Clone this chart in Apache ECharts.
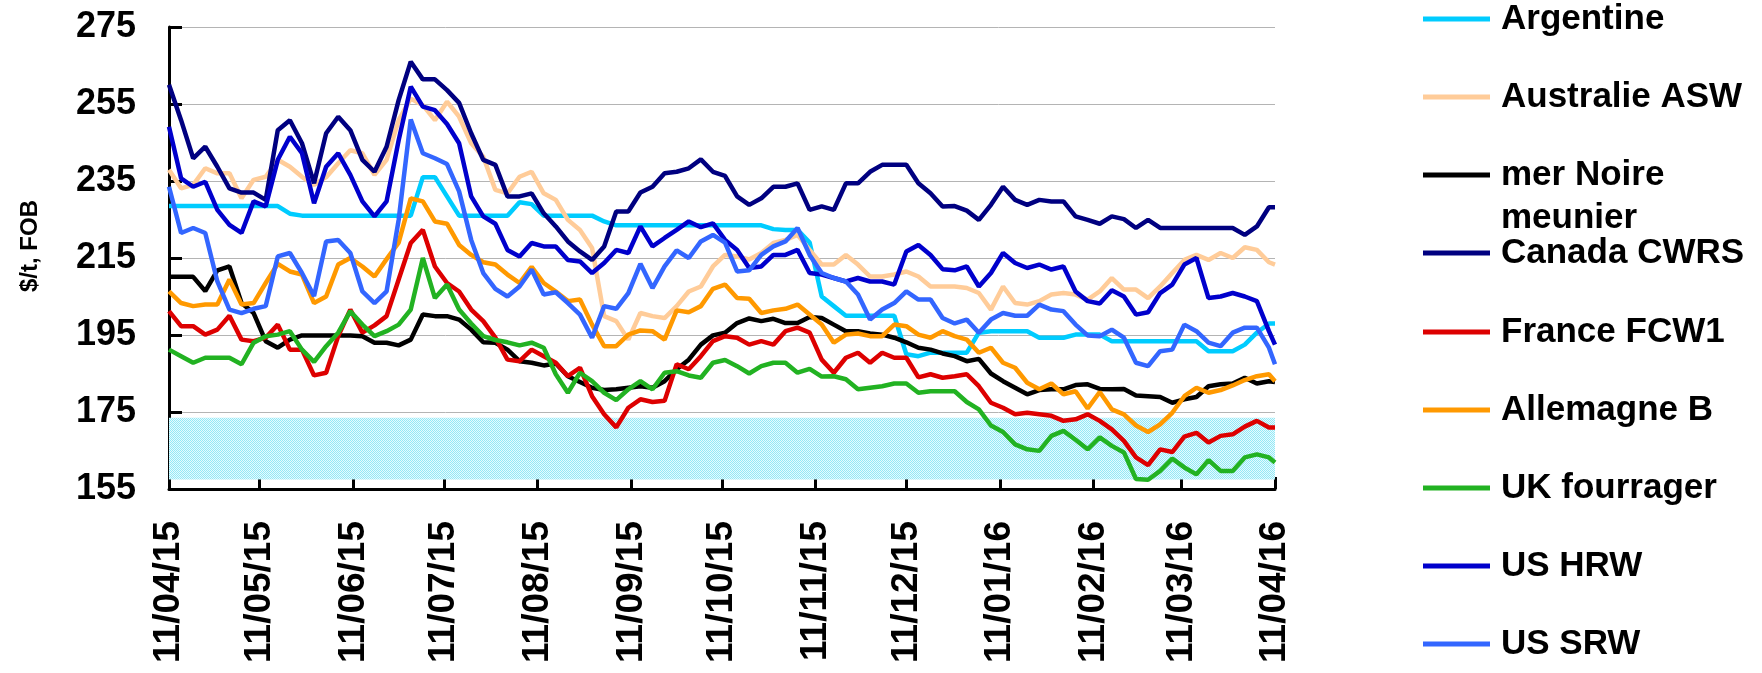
<!DOCTYPE html>
<html>
<head>
<meta charset="utf-8">
<title>Prix FOB du blé</title>
<script src="https://cdn.jsdelivr.net/npm/echarts@6/dist/echarts.min.js"></script>
<style>
  html, body { margin: 0; padding: 0; background: #fff; }
  #chart { width: 1762px; height: 673px; }
</style>
</head>
<body>
<div id="chart"></div>
<script>
// jours écoulés depuis le 11/04/15
const days = [0, 4, 8, 12, 16, 20, 24, 28, 32, 36, 40, 44, 48, 52, 56, 60,
  64, 68, 72, 76, 80, 84, 88, 92, 96, 100, 104, 108, 112, 116, 120, 124,
  128, 132, 136, 140, 144, 148, 152, 156, 160, 164, 168, 172, 176, 180, 184, 188,
  192, 196, 200, 204, 208, 212, 216, 220, 224, 228, 232, 236, 240, 244, 248,
  252, 256, 260, 264, 268, 272, 276, 280, 284, 288, 292, 296, 300, 304, 308, 312,
  316, 320, 324, 328, 332, 336, 340, 344, 348, 352, 356, 360, 364, 366];

// graduations mensuelles
const tickDays = [0, 30, 61, 91, 122, 153, 183, 214, 244, 275, 306, 335, 366];
const tickLabels = ['11/04/15', '11/05/15', '11/06/15', '11/07/15', '11/08/15', '11/09/15',
  '11/10/15', '11/11/15', '11/12/15', '11/01/16', '11/02/16', '11/03/16', '11/04/16'];

const argentine = [228.5, 228.5, 228.5, 228.5, 228.5, 228.5, 228.5, 228.5, 228.5, 228.5, 226.5, 226, 226, 226, 226, 226,
  226, 226, 226, 226, 226, 236, 236, 231, 226, 226, 226, 226, 226, 229.5, 229, 226,
  226, 226, 226, 226, 224.5, 223.5, 223.5, 223.5, 223.5, 223.5, 223.5, 223.5, 223.5, 223.5, 223.5, 223.5,
  223.5, 223.5, 222.5, 222.3, 222.3, 219, 205, 202.5, 200, 200, 200, 200, 200, 190, 189.5,
  190.4, 190.4, 190.4, 190.4, 195.6, 196, 196, 196, 196, 194.3, 194.3, 194.3, 195.1, 195.1, 195.1, 193.4,
  193.4, 193.4, 193.4, 193.4, 193.4, 193.4, 193.4, 190.8, 190.8, 190.8, 192.5, 195.6, 198, 198];

const australieASW = [237.9, 233.1, 234, 238.3, 237, 237, 230.5, 235.3, 236.1, 240.5, 238.7, 236.1, 234, 236, 239.6, 243,
  242.2, 236.6, 240.5, 250.8, 256.4, 254.7, 250.8, 255.6, 251.7, 244.8, 241.3, 232.7, 231.8, 236.1, 237.4, 231.8,
  230.1, 224.9, 222.3, 217.6, 199.9, 198.6, 193.8, 200.7, 199.9, 199.4, 202.5, 206.3, 207.6, 212.8, 215.8, 215.4,
  214.6, 216.3, 218.9, 219.7, 221, 217.1, 213.3, 213.3, 215.8, 213.3, 210.2, 210.2, 210.7, 211.5, 210.2,
  207.6, 207.6, 207.6, 207.2, 205.9, 201.6, 207.6, 203.3, 202.9, 203.8, 205.5, 205.9, 205.5, 204.2, 206.3, 209.8,
  206.8, 206.8, 204.6, 207.6, 211.1, 214.5, 215.8, 214.5, 216.3, 215, 217.8, 217.1, 213.9, 213.3];

const merNoire = [210.1, 210.1, 210.1, 206.4, 211.8, 212.8, 203.3, 200.7, 193.4, 191.7, 193.8, 194.9, 194.9, 194.9, 194.9, 194.9,
  194.7, 193, 193, 192.3, 193.8, 200.3, 199.9, 199.9, 199, 196.4, 193.1, 193, 191.2, 188.2, 187.8, 187.1,
  187.6, 184.3, 182.8, 181.3, 180.7, 180.9, 181.3, 181.7, 181.3, 183, 186.1, 188.6, 192.5, 194.9, 195.6, 198.1,
  199.3, 198.6, 199.2, 198.1, 198.1, 199.7, 199.4, 197.7, 196, 196, 195.4, 195.1, 194.3, 193.1, 191.7,
  191.2, 190.2, 189.5, 188.2, 188.8, 185, 183, 181.3, 179.6, 180.7, 180.9, 180.9, 182, 182.2, 181, 180.9,
  181, 179.3, 179.1, 178.9, 177.4, 178.3, 178.9, 181.7, 182.2, 182.4, 183.9, 182.4, 183, 182.8];

const canadaCWRS = [260, 250.8, 240.9, 243.9, 238.7, 233.1, 232, 232, 230.1, 248.2, 250.8, 244.8, 234.4, 247.4, 251.7, 248.2,
  240.5, 237.4, 243.9, 256, 266, 261.4, 261.4, 258.6, 255.3, 247.4, 240.5, 239.2, 231, 231, 231.8, 226.6,
  223.2, 219.3, 216.7, 214.5, 218, 227.1, 227.1, 232, 233.5, 237, 237.4, 238.3, 240.6, 237.4, 236.3, 231,
  228.8, 230.5, 233.5, 233.5, 234.4, 227.5, 228.4, 227.5, 234.4, 234.4, 237.4, 239.2, 239.2, 239.2, 234.4,
  231.8, 228.4, 228.5, 227.3, 224.9, 228.8, 233.5, 230.1, 228.8, 230.1, 229.7, 229.7, 225.8, 224.9, 223.9, 225.8,
  225.1, 222.8, 224.9, 222.8, 222.8, 222.8, 222.8, 222.8, 222.8, 222.8, 221, 223.2, 228.2, 228.2];

const franceFCW1 = [201.2, 197.3, 197.3, 195.1, 196.4, 200, 193.8, 193.4, 194.3, 197.7, 191.2, 191.2, 184.5, 185.2, 194.7, 201.6,
  195.6, 197.5, 199.9, 209.4, 218.9, 222.3, 212.8, 208.5, 206.3, 201.6, 198.6, 194.3, 188.6, 188.2, 191.2, 189.5,
  187.8, 184.3, 186.5, 179.1, 174.4, 171, 176.1, 178.3, 177.6, 177.9, 187.4, 186.1, 189.5, 193.4, 194.7, 194.3,
  192.5, 193.4, 192.5, 196, 196.9, 195.6, 188.6, 185.2, 189.1, 190.4, 187.8, 190.4, 189.1, 189.1, 184,
  184.8, 183.9, 184.3, 184.8, 181.7, 177.4, 176.1, 174.4, 174.8, 174.4, 174, 172.7, 173.1, 174.4, 172.7, 170.5,
  167.5, 163.2, 161.2, 165.3, 164.6, 168.6, 169.6, 167.1, 168.8, 169.2, 171.2, 172.7, 171, 171];

const allemagneB = [206.3, 203.3, 202.5, 202.9, 202.9, 209.4, 202.9, 203.3, 208.5, 213.5, 211.5, 210.7, 203.3, 205, 213.3, 215,
  212.8, 210.2, 214.7, 219, 230.5, 229.7, 224.5, 223.9, 218.4, 215.8, 213.9, 213.3, 210.7, 208.5, 212.7, 208.5,
  206.3, 203.8, 204.2, 197.7, 192.1, 192.1, 195.1, 196.2, 196, 193.8, 201.4, 200.9, 202.5, 207, 208.1, 204.6,
  204.4, 200.7, 201.4, 201.8, 202.9, 200.3, 197.7, 193, 195.1, 195.4, 194.7, 194.7, 197.7, 197.3, 195.1,
  194.3, 196, 194.7, 193.8, 190.4, 191.7, 187.8, 186.5, 182.6, 180.9, 182.4, 179.6, 180.4, 175.9, 180.2, 175.7,
  174.4, 171.5, 169.8, 171.8, 174.8, 179.1, 181.3, 180, 180.7, 181.9, 183.3, 184.3, 184.8, 183];

const ukFourrager = [191.2, 189.5, 187.8, 189.1, 189.1, 189.1, 187.4, 193, 194.7, 195.1, 196, 191.2, 188, 192.1, 195.6, 201.2,
  197.7, 194.7, 196, 197.7, 201.6, 215, 204.6, 208.1, 201.6, 198, 194.7, 193.7, 193.1, 192.3, 193, 191.7,
  184.8, 180, 185.2, 183, 180, 178.1, 180.9, 183, 180.9, 185.2, 185.6, 184.5, 183.9, 187.8, 188.5, 186.9,
  185, 186.9, 187.8, 187.8, 185.2, 186.2, 184.2, 184.3, 183.5, 180.9, 181.3, 181.7, 182.4, 182.4, 180,
  180.4, 180.4, 180.4, 177.6, 175.7, 171.5, 169.8, 166.6, 165.3, 164.9, 168.8, 170.1, 167.8, 165.3, 168.4, 166.2,
  164.5, 157.6, 157.4, 159.7, 162.9, 160.6, 158.8, 162.5, 159.7, 159.7, 163.2, 164, 163.2, 161.9];

const usHRW = [249.1, 235.7, 233.5, 234.8, 227.5, 223.6, 221.5, 229.7, 228.4, 240.5, 246.5, 242.2, 229.2, 238.7, 242.2, 236.6,
  229.7, 225.8, 229.7, 245.6, 259.5, 254.3, 253.4, 249.8, 244.8, 231, 225.8, 223.9, 217.1, 215.4, 218.9, 218,
  218, 214.5, 214.1, 211.1, 213.7, 217.1, 216.3, 223.2, 218, 220.2, 222.3, 224.5, 223, 224, 219.7, 217.1,
  212.4, 212.8, 215.8, 215.8, 217.1, 211.1, 210.7, 209.8, 208.9, 209.8, 208.9, 208.9, 208.1, 216.7, 218.4,
  215.8, 212.1, 211.8, 212.8, 207.6, 211.1, 216.3, 213.7, 212.4, 213.3, 212, 212.8, 206.3, 203.8, 203.2, 206.6,
  205, 200.3, 200.9, 205.9, 208.1, 213.3, 215, 204.6, 205, 205.9, 205, 203.8, 196, 192.5];

const usSRW = [233.5, 221.5, 222.8, 221.5, 208.9, 201.6, 200.7, 201.8, 202.5, 215.4, 216.3, 211.1, 205.1, 219.3, 219.7, 216.3,
  206.3, 203.3, 206.3, 224.9, 251, 242.2, 240.9, 239.4, 232.3, 219.7, 211.1, 207, 205, 207.6, 212, 205.5,
  206.1, 203.3, 200.3, 194.3, 202.5, 201.8, 205.9, 213.5, 207.2, 212.8, 217, 215, 219.3, 221, 219, 211.5,
  211.8, 215.8, 218, 219.3, 222.8, 215.8, 211.1, 209.8, 208.9, 205.5, 199, 201.6, 203.3, 206.3, 204.2,
  204.2, 199.4, 198, 199, 195.6, 199, 200.7, 200, 200, 202.9, 201.6, 201.2, 197.7, 194.9, 194.7, 196.4,
  194.3, 187.8, 186.9, 190.8, 191.2, 197.7, 196, 193, 192.1, 195.6, 196.9, 196.9, 191.7, 187.4];

// zone ombrée en bas du graphique
const zoneBasse = [157.5, 173.5];

const seriesNames = ['Argentine', 'Australie ASW', 'mer Noire meunier', 'Canada CWRS', 'France FCW1',
  'Allemagne B', 'UK fourrager', 'US HRW', 'US SRW'];
const seriesValues = [argentine, australieASW, merNoire, canadaCWRS, franceFCW1,
  allemagneB, ukFourrager, usHRW, usSRW];
const seriesColors = ['#00CCFF', '#FFCC99', '#000000', '#000080', '#DD0000',
  '#FF9900', '#22B222', '#0000CC', '#3366FF'];

const FONT = '"Liberation Sans", Arial, sans-serif';

// motif pointillé cyan pour la zone
function makePattern() {
  const c = document.createElement('canvas');
  c.width = 2;
  c.height = 2;
  const ctx = c.getContext('2d');
  ctx.fillStyle = '#e6fbfe';
  ctx.fillRect(0, 0, 2, 2);
  ctx.fillStyle = '#94e8f6';
  ctx.fillRect(0, 0, 1, 1);
  ctx.fillRect(1, 1, 1, 1);
  return c;
}

const chart = echarts.init(document.getElementById('chart'), null, {renderer: 'canvas'});

const legendCenters = [19, 97, 175, 253, 332, 410, 488, 566, 644];
const LINE_H = 43;
const legends = seriesNames.map((name, i) => {
  // "mer Noire meunier" sur deux lignes, l'icône en face de la première
  const multi = name === 'mer Noire meunier';
  return {
    data: [name],
    left: 1423,
    top: multi ? legendCenters[i] - LINE_H * 1.5 : legendCenters[i] - LINE_H / 2,
    orient: 'vertical',
    padding: 0,
    icon: 'rect',
    itemWidth: 67,
    itemHeight: 5,
    selectedMode: false,
    formatter: n => (n === 'mer Noire meunier' ? '\u00a0\nmer Noire\nmeunier' : n),
    textStyle: {
      fontFamily: FONT,
      fontWeight: 'bold',
      fontSize: 35,
      color: '#000',
      lineHeight: LINE_H,
      padding: [0, 0, 0, 6]
    }
  };
});

const lineSeries = seriesNames.map((name, i) => ({
  name: name,
  type: 'line',
  z: 2,
  showSymbol: false,
  symbol: 'none',
  color: seriesColors[i],
  lineStyle: {width: 4.5, color: seriesColors[i]},
  data: days.map((d, k) => [d, seriesValues[i][k]])
}));

const option = {
  animation: false,
  backgroundColor: '#fff',
  grid: {left: 169, right: 487, top: 27, bottom: 184, containLabel: false},
  legend: legends,
  xAxis: {
    type: 'value',
    min: 0,
    max: 366,
    axisLine: {lineStyle: {color: '#000', width: 3}},
    axisTick: {
      inside: true,
      length: 12,
      customValues: tickDays,
      lineStyle: {color: '#000', width: 3}
    },
    axisLabel: {
      customValues: tickDays,
      showMinLabel: true,
      showMaxLabel: true,
      rotate: 90,
      margin: 32,
      fontFamily: FONT,
      fontWeight: 'bold',
      fontSize: 37,
      color: '#000',
      formatter: v => tickLabels[tickDays.indexOf(v)]
    },
    splitLine: {show: false}
  },
  yAxis: {
    type: 'value',
    min: 155,
    max: 275,
    interval: 20,
    name: '$/t, FOB',
    nameLocation: 'middle',
    nameGap: 127,
    nameTextStyle: {
      fontFamily: FONT, fontWeight: 'bold', fontSize: 24, color: '#000',
      padding: [0, 0, 0, 24]
    },
    axisLine: {show: true, lineStyle: {color: '#000', width: 3}},
    axisTick: {show: true, inside: true, length: 13, lineStyle: {color: '#000', width: 3}},
    axisLabel: {margin: 33, fontFamily: FONT, fontWeight: 'bold', fontSize: 36, color: '#000'},
    splitLine: {lineStyle: {color: '#b4b4b4', width: 1}}
  },
  series: [{
    name: 'zone',
    type: 'line',
    z: 1,
    silent: true,
    data: [],
    markArea: {
      silent: true,
      itemStyle: {color: {image: makePattern(), repeat: 'repeat'}},
      data: [[{yAxis: zoneBasse[0]}, {yAxis: zoneBasse[1]}]]
    }
  }].concat(lineSeries)
};

chart.setOption(option);
</script>
</body>
</html>
